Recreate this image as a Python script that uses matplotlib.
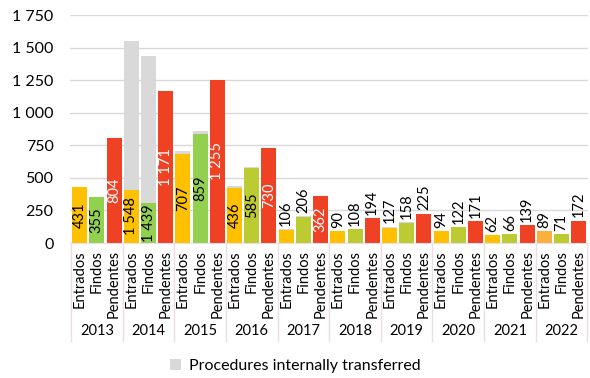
import matplotlib
matplotlib.use("Agg")
import matplotlib.pyplot as plt
from matplotlib.patches import Patch
from matplotlib.ticker import FuncFormatter, MultipleLocator
import numpy as np

plt.rcParams['font.family'] = ['Lato', 'DejaVu Sans']

years = ["2013", "2014", "2015", "2016", "2017", "2018", "2019", "2020", "2021", "2022"]
kinds = ["Entrados", "Findos", "Pendentes"]

entrados = [431, 1548, 707, 436, 106, 90, 127, 94, 62, 89]
findos = [355, 1439, 859, 585, 206, 108, 158, 122, 66, 71]
pendentes = [804, 1171, 1255, 730, 362, 194, 225, 171, 139, 172]

# part of each total that came from internal transfers
entrados_transf = [4, 1138, 24, 12, 4, 0, 12, 3, 0, 0]
findos_transf = [3, 1135, 23, 10, 7, 3, 5, 0, 0, 3]

yel = "#FFC000"
yel_last = "#FAB03E"
grn_a = "#92D050"
grn_b = "#BDCB33"
red = "#EF4123"
grey = "#D9D9D9"
sep_col = "#EEDCE8"

def fmt(v):
    return f"{v:,}".replace(",", " ")

fig = plt.figure(figsize=(5.9, 3.78), dpi=100)
ax = fig.add_axes([0.119, 0.357, 0.878, 0.603])

n = len(years)
x = np.arange(n * 3)
width = 0.87

series = []
for i in range(n):
    e_col = yel_last if i == n - 1 else yel
    f_col = grn_a if i < 3 else grn_b
    series.append((entrados[i], entrados_transf[i], e_col, "black"))
    series.append((findos[i], findos_transf[i], f_col, "black"))
    series.append((pendentes[i], 0, red, "white"))

for xi, (total, transf, col, tcol) in zip(x, series):
    own = total - transf
    ax.bar(xi, own, width=width, color=col, zorder=2)
    if transf > 0:
        ax.bar(xi, transf, width=width, bottom=own, color=grey, zorder=2)
    if own >= 280:
        ax.text(xi, own / 2, fmt(total), rotation=90, ha="center", va="center",
                fontsize=10.5, color=tcol, zorder=3)
    else:
        ax.text(xi, total + 25, fmt(total), rotation=90, ha="center", va="bottom",
                fontsize=10.5, color="black", zorder=3)

ax.set_ylim(0, 1750)
ax.set_xlim(-0.55, n * 3 - 0.45)
ax.yaxis.set_major_locator(MultipleLocator(250))
ax.yaxis.set_major_formatter(FuncFormatter(lambda v, p: fmt(int(v))))
ax.tick_params(axis="y", length=0, labelsize=11.5, pad=12)
ax.tick_params(axis="x", length=0, labelbottom=False)
ax.grid(axis="y", color=grey, linewidth=1, zorder=0)
for s in ["top", "right", "left"]:
    ax.spines[s].set_visible(False)
ax.spines["bottom"].set_color(sep_col)

trans = ax.get_xaxis_transform()
for xi in x:
    ax.text(xi, -0.03, kinds[xi % 3], rotation=90, ha="center", va="top",
            fontsize=10.5, transform=trans)
for i, yr in enumerate(years):
    ax.text(3 * i + 1, -0.385, yr, ha="center", va="center", fontsize=10.5,
            transform=trans)
for b in range(n + 1):
    ax.plot([3 * b - 0.5, 3 * b - 0.5], [0, -0.43], color=sep_col, linewidth=1,
            transform=trans, clip_on=False)

handles = [Patch(facecolor=grey, edgecolor="none", label="Procedures internally transferred")]
fig.legend(handles=handles, loc="center", bbox_to_anchor=(0.5, 0.032), frameon=False,
           fontsize=11.5, handlelength=0.7, handleheight=0.7, handletextpad=0.5)

fig.savefig("out.png", dpi=100)
